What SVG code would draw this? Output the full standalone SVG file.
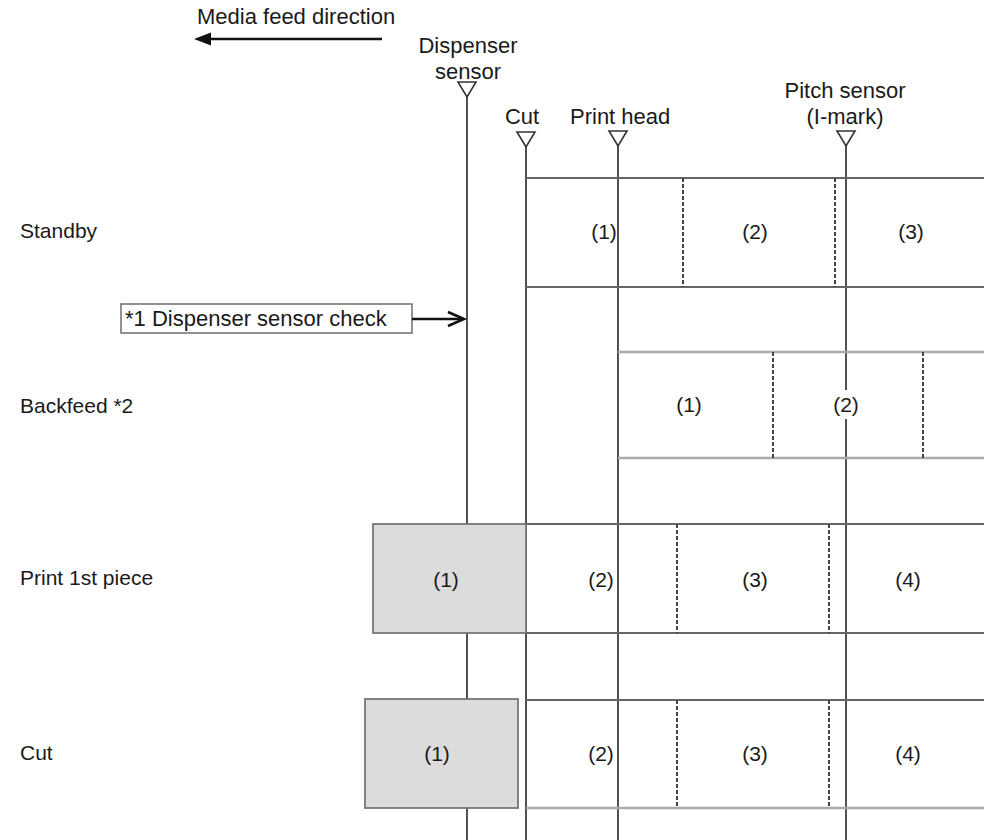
<svg xmlns="http://www.w3.org/2000/svg" width="984" height="840" viewBox="0 0 984 840">
<style>
text{font-family:"Liberation Sans",Arial,sans-serif;font-size:22px;fill:#1a1a1a}
.lbl{font-size:21px}
.num{font-size:21px;text-anchor:middle}
.mid{text-anchor:middle}
.vline{stroke:#333;stroke-width:1.7;fill:none}
.tri{stroke:#333;stroke-width:1.6;fill:#fff}
.row{stroke:#666;stroke-width:1.8;fill:none}
.rowl{stroke:#aaa;stroke-width:2.5;fill:none}
.dash{stroke:#444;stroke-width:2;stroke-dasharray:4 2;fill:none}
.gbox{fill:#dcdcdc;stroke:#777;stroke-width:1.8}
</style>
<rect width="984" height="840" fill="#fff"/>

<g id="feed-direction">
<text x="197" y="24">Media feed direction</text>
<line x1="209" y1="39" x2="382" y2="39" stroke="#111" stroke-width="2.6"/>
<path d="M194,39 L211,32.5 L211,45.5 z" fill="#111"/>
</g>

<g id="connectors">
<line class="vline" x1="467" y1="97" x2="467" y2="840"/>
<line class="vline" x1="526" y1="147" x2="526" y2="840"/>
<line class="vline" x1="618" y1="146" x2="618" y2="840"/>
<line class="vline" x1="846" y1="146" x2="846" y2="390" stroke="#555"/>
<line class="vline" x1="846" y1="419" x2="846" y2="840" stroke="#555"/>
</g>

<g id="dispenser-sensor">
<text class="mid" x="468" y="53">Dispenser</text>
<text class="mid" x="468" y="79">sensor</text>
<path class="tri" d="M458,82 L476,82 L467,97 z"/>
</g>

<g id="cut-pos">
<text class="mid" x="522" y="124">Cut</text>
<path class="tri" d="M517,132 L535,132 L526,147 z"/>
</g>

<g id="print-head">
<text x="570" y="124">Print head</text>
<path class="tri" d="M609,131 L627,131 L618,146 z"/>
</g>

<g id="pitch-sensor">
<text class="mid" x="845" y="98">Pitch sensor</text>
<text class="mid" x="845" y="124">(I-mark)</text>
<path class="tri" d="M837,131 L855,131 L846,146 z"/>
</g>

<g id="row-standby">
<text class="lbl" x="20" y="238">Standby</text>
<line class="row" x1="526" y1="178" x2="984" y2="178"/>
<line class="row" x1="526" y1="287" x2="984" y2="287"/>
<line class="dash" x1="683" y1="178" x2="683" y2="287"/>
<line class="dash" x1="835" y1="178" x2="835" y2="287"/>
<text class="num" x="604" y="239">(1)</text>
<text class="num" x="755" y="239">(2)</text>
<text class="num" x="911" y="239">(3)</text>
</g>

<g id="dispenser-check">
<rect x="121" y="304" width="291" height="29" fill="#fff" stroke="#777" stroke-width="1.6"/>
<text x="125" y="326">*1 Dispenser sensor check</text>
<line x1="412" y1="319" x2="463" y2="319" stroke="#111" stroke-width="2.6"/>
<path d="M448,312 L464,319 L448,326" fill="none" stroke="#111" stroke-width="2.6"/>
</g>

<g id="row-backfeed">
<text class="lbl" x="20" y="413">Backfeed *2</text>
<line class="rowl" x1="618" y1="352" x2="984" y2="352"/>
<line class="rowl" x1="618" y1="458" x2="984" y2="458"/>
<line class="dash" x1="773" y1="352" x2="773" y2="458"/>
<line class="dash" x1="923" y1="352" x2="923" y2="458"/>
<text class="num" x="689" y="412">(1)</text>
<text class="num" x="846" y="412">(2)</text>
</g>

<g id="row-print">
<text class="lbl" x="20" y="585">Print 1st piece</text>
<rect class="gbox" x="373" y="524" width="153" height="109"/>
<line class="row" x1="526" y1="524" x2="984" y2="524"/>
<line class="row" x1="526" y1="633" x2="984" y2="633"/>
<line class="dash" x1="677" y1="524" x2="677" y2="633"/>
<line class="dash" x1="829" y1="524" x2="829" y2="633"/>
<text class="num" x="446" y="587">(1)</text>
<text class="num" x="601" y="587">(2)</text>
<text class="num" x="755" y="587">(3)</text>
<text class="num" x="908" y="587">(4)</text>
</g>

<g id="row-cut">
<text class="lbl" x="20" y="760">Cut</text>
<rect class="gbox" x="365" y="699" width="153" height="109"/>
<line class="row" x1="526" y1="700" x2="984" y2="700"/>
<line class="rowl" x1="526" y1="808" x2="984" y2="808"/>
<line class="dash" x1="677" y1="700" x2="677" y2="808"/>
<line class="dash" x1="829" y1="700" x2="829" y2="808"/>
<text class="num" x="437" y="761">(1)</text>
<text class="num" x="601" y="761">(2)</text>
<text class="num" x="755" y="761">(3)</text>
<text class="num" x="908" y="761">(4)</text>
</g>
</svg>
